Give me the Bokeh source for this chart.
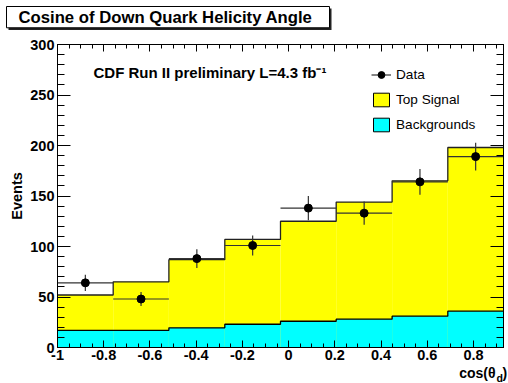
from bokeh.plotting import figure
from bokeh.layouts import column
from bokeh.models import (Range1d, LinearAxis, SingleIntervalTicker, CustomJSTickFormatter,
                          BasicTickFormatter, Label, Legend, LegendItem, BoxAnnotation)
from bokeh.embed import file_html
from bokeh.resources import INLINE

# Histogram binning in cos(theta_d)
bin_edges = [-1.0, -0.759, -0.518, -0.276, -0.035, 0.206, 0.448, 0.689, 0.93]

# Stacked expectation per bin
background = [17, 17, 19.5, 23, 26, 28, 31, 36]
top_signal = [35, 48, 67.5, 84, 99, 116, 134, 162]

# Observed data with statistical uncertainties
data_counts = [64, 48, 88, 101, 138, 133, 164, 189]
data_errors = [8.1, 7.0, 9.3, 10.0, 12.0, 11.5, 12.7, 13.7]

FONT = "Liberation Sans"
W, H = 508, 383
HEAD_H = 34          # strip holding the title box
FOOT_H = 17          # strip holding the x-axis title
MAIN_H = H - HEAD_H - FOOT_H
BORDER_L, BORDER_R, BORDER_B = 57, 5, 19
BORDER_T = 44 - HEAD_H
FRAME_BOTTOM = HEAD_H + MAIN_H - BORDER_B   # canvas y of the frame's lower edge

lefts = bin_edges[:-1]
rights = bin_edges[1:]
centers = [(a + b) / 2 for a, b in zip(lefts, rights)]
total = [b + s for b, s in zip(background, top_signal)]
nan = float("nan")


def unaligned(f):
    # keep each figure's frame where its own borders put it
    if "frame_align" in f.properties():
        f.frame_align = False
    return f


def strip(height, y_top):
    # plain figure whose frame fills it; y runs downward in canvas pixels
    f = figure(width=W, height=height, output_backend="svg", toolbar_location=None,
               x_range=Range1d(0, W), y_range=Range1d(y_top + height, y_top),
               x_axis_type=None, y_axis_type=None, title=None, min_border=0)
    f.outline_line_color = None
    f.background_fill_color = "white"
    f.border_fill_color = "white"
    return unaligned(f)


# ---- title strip -------------------------------------------------------
head = strip(HEAD_H, 0)
title_text = "Cosine of Down Quark Helicity Angle"
head.add_layout(BoxAnnotation(left=8, right=331, top=8, bottom=29.5,
                              fill_color="#222222", fill_alpha=1, line_color=None))
head.add_layout(BoxAnnotation(left=6, right=329, top=6, bottom=27.3,
                              fill_color="white", fill_alpha=1,
                              line_color="black", line_width=1, line_alpha=1))
head.add_layout(Label(x=18, y=17, text=title_text, text_font=FONT, text_font_style="bold",
                      text_font_size="16.7px", text_color="black", text_baseline="middle"))

# ---- main plot -----------------------------------------------------------
plot = figure(width=W, height=MAIN_H, output_backend="svg", toolbar_location=None,
              x_range=Range1d(bin_edges[0], bin_edges[-1]), y_range=Range1d(0, 300),
              x_axis_type=None, y_axis_type=None, title=None,
              min_border_left=BORDER_L, min_border_right=BORDER_R,
              min_border_top=BORDER_T, min_border_bottom=BORDER_B)
unaligned(plot)
plot.outline_line_color = "black"
plot.outline_line_width = 1
plot.background_fill_color = "white"
plot.border_fill_color = "white"

xticker = SingleIntervalTicker(interval=0.2, num_minor_ticks=4)
yticker = SingleIntervalTicker(interval=50, num_minor_ticks=5)
xfmt = CustomJSTickFormatter(code="return String(Number(tick.toFixed(2)));")
blank = CustomJSTickFormatter(code="return '';")


def make_axis(ticker, major_in, minor_in, fmt, labels=True):
    ax = LinearAxis(ticker=ticker, formatter=fmt)
    ax.axis_line_color = "black"
    ax.major_tick_line_color = "black"
    ax.minor_tick_line_color = "black"
    ax.major_tick_in = major_in
    ax.major_tick_out = 0
    ax.minor_tick_in = minor_in
    ax.minor_tick_out = 0
    if labels:
        ax.major_label_text_font = FONT
        ax.major_label_text_font_style = "bold"
        ax.major_label_text_font_size = "14.5px"
        ax.major_label_text_color = "black"
    else:
        ax.major_label_text_font_size = "0px"
        ax.major_label_standoff = 0
    return ax


xaxis = make_axis(xticker, 7, 4, xfmt)
xaxis.major_label_standoff = 2
yaxis = make_axis(yticker, 13, 7, BasicTickFormatter())
yaxis.major_label_standoff = 3
yaxis.axis_label = "Events"
yaxis.axis_label_text_font = FONT
yaxis.axis_label_text_font_style = "bold"
yaxis.axis_label_text_font_size = "14.5px"
yaxis.axis_label_text_color = "black"
yaxis.axis_label_standoff = 2

plot.add_layout(xaxis, "below")
plot.add_layout(make_axis(xticker, 7, 4, blank, labels=False), "above")
plot.add_layout(yaxis, "left")
plot.add_layout(make_axis(yticker, 13, 7, blank, labels=False), "right")

# Stacked histogram fills
plot.quad(left=lefts, right=rights, bottom=0, top=total, fill_color="#ffff00", line_color=None)
plot.quad(left=lefts, right=rights, bottom=0, top=background, fill_color="#00ffff", line_color=None)

# Histogram outlines
plot.step(x=bin_edges, y=total + [total[-1]], mode="after", line_color="#222222", line_width=1.3)
plot.step(x=bin_edges, y=background + [background[-1]], mode="after",
          line_color="black", line_width=1.3)

# Data points with error bars
err_h = plot.segment(x0=lefts, x1=rights, y0=data_counts, y1=data_counts,
                     line_color="#333333", line_width=1.2)
err_v = plot.segment(x0=centers, x1=centers,
                     y0=[c - e for c, e in zip(data_counts, data_errors)],
                     y1=[c + e for c, e in zip(data_counts, data_errors)],
                     line_color="#333333", line_width=1.2)
pts = plot.scatter(x=centers, y=data_counts, size=8, marker="circle",
                   fill_color="black", line_color="black")

# Legend swatches (undrawn entries carrying the swatch style)
sw_sig = plot.quad(left=[nan], right=[nan], bottom=[nan], top=[nan],
                   fill_color="#ffff00", line_color="black")
sw_bkg = plot.quad(left=[nan], right=[nan], bottom=[nan], top=[nan],
                   fill_color="#00ffff", line_color="black")

legend = Legend(items=[LegendItem(label="Data", renderers=[err_h, pts]),
                       LegendItem(label="Top Signal", renderers=[sw_sig]),
                       LegendItem(label="Backgrounds", renderers=[sw_bkg])],
                location=(314, 214), orientation="vertical",
                border_line_alpha=0, background_fill_alpha=0,
                glyph_width=20, glyph_height=17, label_height=17, label_standoff=5,
                spacing=8, padding=0, margin=0,
                label_text_font=FONT, label_text_font_size="13.6px", label_text_color="black")
plot.add_layout(legend)

plot.add_layout(Label(x=93 - BORDER_L, y=FRAME_BOTTOM - 72, x_units="screen", y_units="screen",
                      text="CDF Run II preliminary L=4.3 fb⁻¹", text_font=FONT,
                      text_font_style="bold", text_font_size="15px", text_color="black",
                      text_baseline="middle"))

# ---- x-axis title strip ----------------------------------------------------
foot = strip(FOOT_H, HEAD_H + MAIN_H)
foot.add_layout(Label(x=495, y=372.5, text="cos(θ", text_font=FONT, text_font_style="bold",
                      text_font_size="14px", text_color="black",
                      text_baseline="middle", text_align="right"))
foot.add_layout(Label(x=496, y=377.5, text="d", text_font=FONT, text_font_style="bold",
                      text_font_size="10.5px", text_color="black",
                      text_baseline="middle", text_align="left"))
foot.add_layout(Label(x=502, y=372.5, text=")", text_font=FONT, text_font_style="bold",
                      text_font_size="14px", text_color="black",
                      text_baseline="middle", text_align="left"))

p = column(head, plot, foot, spacing=0)

open("out.html", "w").write(file_html(p, INLINE))
